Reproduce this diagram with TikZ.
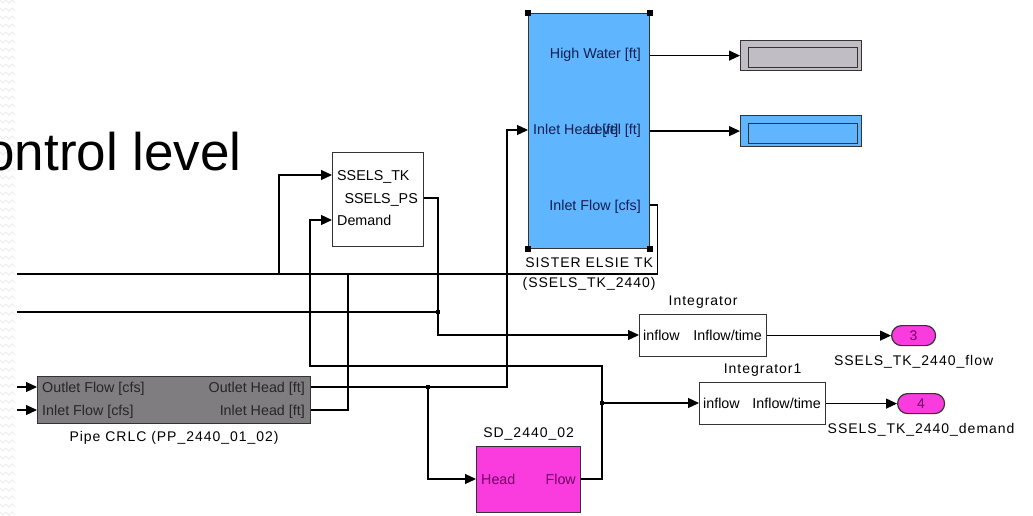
\documentclass[tikz,border=0pt]{standalone}
\usepackage{fontspec}
\setmainfont{Liberation Sans}
\newfontfamily\lblfont[LetterSpace=7]{Liberation Sans}
\usetikzlibrary{positioning,arrows.meta}
\definecolor{tankblue}{RGB}{95,182,255}
\definecolor{pipegray}{RGB}{128,125,128}
\definecolor{dispgray}{RGB}{192,189,196}
\definecolor{sdpink}{RGB}{250,60,222}
\definecolor{sdtext}{RGB}{110,0,100}
\definecolor{portblue}{RGB}{20,30,80}

\begin{document}
\begin{tikzpicture}[x=1pt, y=-1pt,
  blk/.style={draw=black!80, line width=1.2pt, anchor=north west, inner sep=0pt},
  port/.style={font=\fontsize{14.3}{16}\selectfont, inner sep=0pt, text height=10pt, text depth=0pt},
  lbl/.style={font=\lblfont\fontsize{14}{20}\selectfont, inner sep=0pt, text height=10pt, text depth=3pt},
  wire/.style={draw=black, line width=1.2pt},
  arr/.style={wire, -{Triangle[length=11pt, width=10pt]}},
  zig/.style={draw=black!7, line width=0.8pt}]
\path[use as bounding box, fill=white] (0,0) rectangle (1033,516);
% slide background edge
\foreach \k in {0,...,64} \draw[zig] (0,\k*8) -- ++(3,3) -- ++(3,-3) -- ++(3,3) -- ++(3,-3) -- ++(3,3);
\node[font=\fontsize{53}{60}\selectfont, anchor=base east, inner sep=0pt] (title) at (242,171) {ontrol level};

% blocks
\node[blk, fill=white, minimum width=91pt, minimum height=94pt] (ctl) at (332,152) {};
\node[blk, fill=tankblue, minimum width=121pt, minimum height=235pt] (tank) at (528,13) {};
\node[blk, fill=dispgray, minimum width=121pt, minimum height=30pt] (hw) at (740,40) {};
\node[blk, fill=dispgray, minimum width=109pt, minimum height=20pt] (hwin) at (748,47) {};
\node[blk, fill=tankblue, minimum width=121pt, minimum height=31pt] (lev) at (740,115) {};
\node[blk, fill=tankblue, minimum width=109pt, minimum height=20pt] (levin) at (748,123) {};
\node[blk, fill=pipegray, minimum width=273pt, minimum height=47pt] (pipe) at (37,376) {};
\node[blk, fill=white, minimum width=127pt, minimum height=42pt] (intg) at (639,314) {};
\node[blk, fill=white, minimum width=126pt, minimum height=42pt] (intd) at (699,382) {};
\node[blk, fill=sdpink, minimum width=104pt, minimum height=66pt] (sd) at (476,446) {};
\node[blk, fill=sdpink, rounded corners=10pt, minimum width=44pt, minimum height=20pt, text=sdtext, font=\fontsize{14}{16}\selectfont] (out3) at (891,325) {3};
\node[blk, fill=sdpink, rounded corners=10pt, minimum width=47pt, minimum height=20pt, text=sdtext, font=\fontsize{14}{16}\selectfont] (out4) at (897,393) {4};
\foreach \a in {north west, north east, south west, south east}
  \fill ([shift={(-3,-3)}]tank.\a) rectangle ++(6,6);

% port texts
\node[port, anchor=west] (pTK) at (337,175) {SSELS\_TK};
\node[port, anchor=east] (pPS) at (418,198) {SSELS\_PS};
\node[port, anchor=west] (pDm) at (337,220) {Demand};
\node[port, text=portblue, anchor=east] (pHW) at (641,54) {High Water [ft]};
\node[port, text=portblue, anchor=west] (pIH) at (533,130) {Inlet Head [ft]};
\node[port, text=portblue, anchor=east] (pLv) at (641,130) {Level [ft]};
\node[port, text=portblue, anchor=east] (pIF) at (641,205) {Inlet Flow [cfs]};
\node[port, text=black!85, anchor=west] (pOF) at (42,387) {Outlet Flow [cfs]};
\node[port, text=black!85, anchor=west] (pIFp) at (42,410) {Inlet Flow [cfs]};
\node[port, text=black!85, anchor=east] (pOH) at (305,387) {Outlet Head [ft]};
\node[port, text=black!85, anchor=east] (pIHp) at (305,410) {Inlet Head [ft]};
\node[port, anchor=west] (gin) at (643,335) {inflow};
\node[port, anchor=east] (gout) at (762,335) {Inflow/time};
\node[port, anchor=west] (din) at (703,403) {inflow};
\node[port, anchor=east] (dout) at (821,403) {Inflow/time};
\node[port, text=sdtext, anchor=west] (sH) at (481,479) {Head};
\node[port, text=sdtext, anchor=east] (sF) at (576,479) {Flow};

% block names
\node[lbl, below=8pt of tank] (tankl) {SISTER ELSIE TK};
\node[lbl, below=7pt of tankl] (tankl2) {(SSELS\_TK\_2440)};
\node[lbl, below=7pt of pipe] (pipel) {Pipe CRLC (PP\_2440\_01\_02)};
\node[lbl, above=5pt of intg] (intgl) {Integrator};
\node[lbl, above=5pt of intd] (intdl) {Integrator1};
\node[lbl, above=5pt of sd] (sdl) {SD\_2440\_02};
\node[lbl, below=9pt of out3] (out3l) {SSELS\_TK\_2440\_flow};
\node[lbl, below=9pt of out4] (out4l) {SSELS\_TK\_2440\_demand};

% wires
\coordinate (w1) at (17,274);
\coordinate (w2) at (17,312);
\coordinate (b1) at (279,274);
\coordinate (b2) at (348,274);
\coordinate (j2) at (438,312);
\coordinate (j3) at (602,403);
\coordinate (k3) at (310,366);
\coordinate (j4) at (428,387);
\coordinate (k4) at (507,387);
\coordinate (p1) at (17,387);
\coordinate (p2) at (17,410);
\draw[wire] (tank.east |- pIF) -- ++(7,0) |- (w1);
\draw[arr] (b1) |- (ctl.west |- pTK);
\draw[wire] (pipe.east |- pIHp) -| (b2);
\draw[wire] (w2) -- (j2);
\draw[arr] (ctl.east |- pPS) -| (j2) |- (intg.west |- gin);
\draw[wire] (sd.east |- sF) -| (j3);
\draw[arr] (j3) -- (intd.west |- din);
\draw[arr] (j3) |- (k3) |- (ctl.west |- pDm);
\draw[arr] (pipe.east |- pOH) -- (k4) |- (tank.west |- pIH);
\draw[arr] (j4) |- (sd.west |- sH);
\draw[arr] (tank.east |- hw.west) -- (hw.west);
\draw[arr] (tank.east |- lev.west) -- (lev.west);
\draw[arr] (intg.east) -- (out3.west);
\draw[arr] (intd.east) -- (out4.west);
\draw[arr] (p1) -- (pipe.west |- pOF);
\draw[arr] (p2) -- (pipe.west |- pIFp);
\foreach \j in {j2,j3,j4} \fill ([shift={(-2,-2)}]\j) rectangle ++(4,4);
\end{tikzpicture}
\end{document}
